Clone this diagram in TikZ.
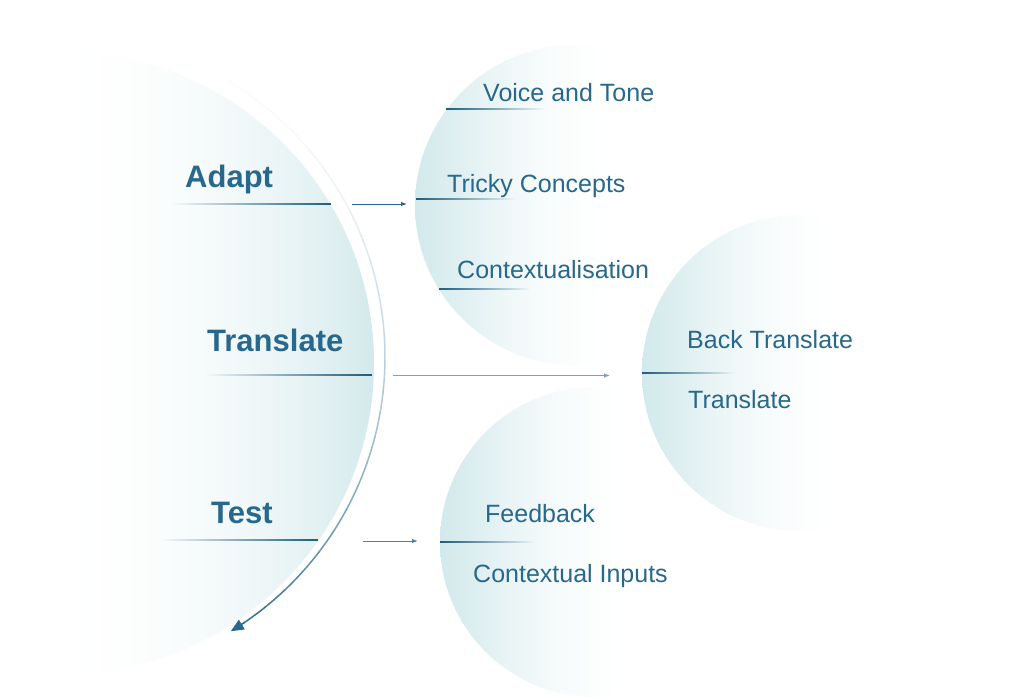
\documentclass[tikz,border=0pt]{standalone}
\usepackage{fontspec}
\setmainfont{Liberation Sans}
\usetikzlibrary{positioning,arrows.meta,fadings,calc}
\definecolor{inkblue}{RGB}{40,104,140}
\definecolor{lineblue}{RGB}{30,92,128}
\definecolor{paleteal}{RGB}{210,233,235}
\definecolor{arrowgrey}{RGB}{125,162,185}
\definecolor{arrowmid}{RGB}{80,130,160}

\pgfdeclarehorizontalshading{bubblefade}{100bp}{color(0bp)=(paleteal); color(25bp)=(paleteal); color(29bp)=(paleteal!82!white); color(33bp)=(paleteal!64!white); color(37bp)=(paleteal!46!white); color(41bp)=(paleteal!30!white); color(45bp)=(paleteal!17!white); color(49bp)=(paleteal!8!white); color(53bp)=(paleteal!2!white); color(56bp)=(white); color(100bp)=(white)}
\pgfdeclarehorizontalshading{diskfade}{100bp}{color(0bp)=(white); color(50bp)=(white); color(54bp)=(paleteal!3!white); color(58bp)=(paleteal!10!white); color(62bp)=(paleteal!22!white); color(66bp)=(paleteal!38!white); color(70bp)=(paleteal!60!white); color(73bp)=(paleteal!80!white); color(75bp)=(paleteal); color(100bp)=(paleteal)}
\tikzfading[name=fadeleft, left color=transparent!100, middle color=transparent!15, right color=transparent!0]
\tikzfading[name=faderight, left color=transparent!0, middle color=transparent!35, right color=transparent!100]

\begin{document}
\begin{tikzpicture}[x=1pt, y=-1pt,
  title/.style={anchor=base west, inner sep=0pt, text=inkblue,
                font=\fontsize{31}{36}\selectfont\bfseries},
  item/.style={anchor=base west, inner sep=0pt, text=inkblue,
               font=\fontsize{25}{30}\selectfont},
  uline/.style={fill=lineblue, path fading=fadeleft},
  sline/.style={fill=lineblue, path fading=faderight},
  bubble/.style={shading=bubblefade},
  arr/.style={-{Latex[length=6pt,width=4.5pt]}, line width=1pt}
]
\useasboundingbox[fill=white] (0,0) rectangle (1030,699);

% big disk on the left
\begin{scope}
  \clip (63,363) circle (311);
  \shade[shading=diskfade] (-248,52) rectangle (374,674);
\end{scope}

% three bubbles
\begin{scope}
  \clip (575,205) circle (160);
  \shade[bubble] (415,45) rectangle (735,365);
\end{scope}
\begin{scope}
  \clip (595,542) circle (155);
  \shade[bubble] (440,387) rectangle (750,697);
\end{scope}
\begin{scope}
  \clip (800,373) circle (158);
  \shade[bubble] (642,215) rectangle (958,531);
\end{scope}

% curved arrow, fading in from the top
\coordinate (hub) at (64,357);
\foreach \i in {0,...,24}{
  \pgfmathsetmacro{\p}{2+98*(\i/25)^1.8}
  \pgfmathsetmacro{\a}{-59.2+4.6*\i}
  \draw[draw=inkblue!\p!white, line width=1.5pt]
    ($(hub)+(\a:321)$) arc (\a:\a+4.7:321);
}
\draw[draw=inkblue, line width=1.6pt, -{Triangle[length=13pt,width=11pt]}]
  ($(hub)+(55.8:321)$) arc (55.8:58.7:321);

% stages
\node[title] (adapt) at (185,187) {Adapt};
\node[title] (translate) at (207,351) {Translate};
\node[title] (test) at (211,523) {Test};

\fill[uline] (172,202.5) rectangle (331,204.5);
\fill[uline] (205,374) rectangle (372,376);
\fill[uline] (160,538.5) rectangle (318,540.5);

% bubble items
\node[item] (voice) at (483,101) {Voice and Tone};
\node[item] (tricky) at (447,192) {Tricky Concepts};
\node[item] (context) at (457,278) {Contextualisation};
\node[item] (back) at (687,348) {Back Translate};
\node[item] (retrans) at (688,408) {Translate};
\node[item] (feedback) at (485,522) {Feedback};
\node[item] (inputs) at (473,582) {Contextual Inputs};

\fill[sline] (446,107.5) rectangle (545,109.5);
\fill[sline] (416,197.5) rectangle (515,199.5);
\fill[sline] (439,288) rectangle (530,290);
\fill[sline] (642,372) rectangle (735,374);
\fill[sline] (440,541) rectangle (535,543);

% connectors
\coordinate (adaptgo) at (352,204);
\coordinate (adaptin) at (407,204);
\coordinate (transgo) at (393,375.5);
\coordinate (transin) at (610,375.5);
\coordinate (testgo) at (363,541);
\coordinate (testin) at (418,541);
\draw[arr, draw=inkblue] (adaptgo) -- (adaptin);
\draw[arr, draw=arrowgrey] (transgo) -- (transin);
\draw[arr, draw=arrowmid] (testgo) -- (testin);
\end{tikzpicture}
\end{document}
